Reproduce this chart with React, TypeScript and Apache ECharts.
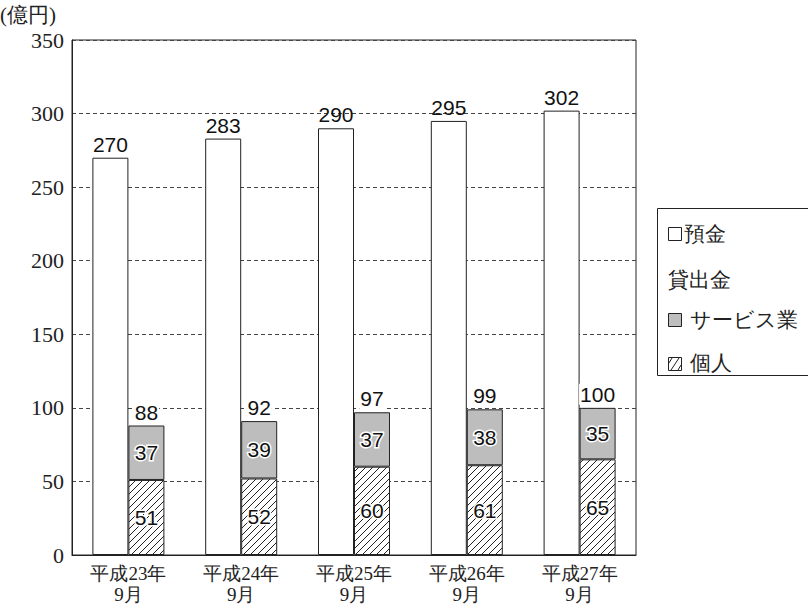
import React, { useEffect, useRef } from "react";
import * as echarts from "echarts";

const categories = ["平成23年\n9月", "平成24年\n9月", "平成25年\n9月", "平成26年\n9月", "平成27年\n9月"];
const deposits = [270, 283, 290, 295, 302];
const individual = [51, 52, 60, 61, 65];
const service = [37, 39, 37, 38, 35];
const loanTotals = [88, 92, 97, 99, 100];
const yTicks = { min: 0, max: 350, interval: 50 };

const SERIF = "Liberation Serif";
const SANS = "Liberation Sans";

function makeHatch(): HTMLCanvasElement {
  const c = document.createElement("canvas");
  const s = 7;
  c.width = s;
  c.height = s;
  const ctx = c.getContext("2d")!;
  ctx.fillStyle = "#fff";
  ctx.fillRect(0, 0, s, s);
  ctx.strokeStyle = "#222";
  ctx.lineWidth = 1;
  ctx.beginPath();
  ctx.moveTo(0, s);
  ctx.lineTo(s, 0);
  ctx.moveTo(-1, 1);
  ctx.lineTo(1, -1);
  ctx.moveTo(s - 1, s + 1);
  ctx.lineTo(s + 1, s - 1);
  ctx.stroke();
  return c;
}

export default function App() {
  const ref = useRef<HTMLDivElement>(null);
  useEffect(() => {
    document.body.style.margin = "0";
    const chart = echarts.init(ref.current!, null, { renderer: "svg" });
    const numLabel = {
      show: true,
      fontFamily: SANS,
      fontSize: 21,
      color: "#111",
    };
    const lx = 668;
    const legendText = (text: string, x: number, y: number) => ({
      type: "text",
      x,
      y,
      style: { text, fontFamily: SERIF, fontSize: 21, fill: "#222", verticalAlign: "middle" },
    });
    chart.setOption({
      animation: false,
      backgroundColor: "#fff",
      grid: { left: 72, top: 40, width: 564, height: 515, show: true, borderColor: "#222", borderWidth: 1, backgroundColor: "transparent" },
      xAxis: {
        type: "category",
        data: categories,
        axisLine: { lineStyle: { color: "#222", width: 1 } },
        axisTick: { show: false },
        axisLabel: { fontFamily: SERIF, fontSize: 19, color: "#222", lineHeight: 21, margin: 8 },
      },
      yAxis: {
        type: "value",
        min: yTicks.min,
        max: yTicks.max,
        interval: yTicks.interval,
        axisLine: { show: true, lineStyle: { color: "#222" } },
        axisTick: { show: false },
        axisLabel: { fontFamily: SERIF, fontSize: 22, color: "#222", margin: 8 },
        splitLine: { show: true, lineStyle: { type: [4, 3], color: "#444", width: 1 } },
      },
      series: [
        {
          name: "預金",
          type: "bar",
          data: deposits,
          barWidth: 36,
          barGap: "0%",
          itemStyle: { color: "#fff", borderColor: "#222", borderWidth: 1 },
          label: { ...numLabel, position: "top", distance: 3 },
          z: 3,
        },
        {
          name: "個人",
          type: "bar",
          stack: "loan",
          data: individual,
          barWidth: 36,
          itemStyle: {
            color: { image: makeHatch(), repeat: "repeat" },
            borderColor: "#222",
            borderWidth: 1,
          },
          label: { ...numLabel, position: "inside", textBorderColor: "#fff", textBorderWidth: 3 },
          z: 3,
        },
        {
          name: "サービス業",
          type: "bar",
          stack: "loan",
          data: service,
          barWidth: 36,
          itemStyle: { color: "#bdbdbd", borderColor: "#222", borderWidth: 1 },
          label: { ...numLabel, position: "inside", textBorderColor: "#fff", textBorderWidth: 3 },
          z: 3,
        },
        {
          name: "合計",
          type: "bar",
          stack: "loan",
          data: loanTotals.map(() => 0),
          barWidth: 36,
          itemStyle: { color: "transparent", borderWidth: 0 },
          label: {
            ...numLabel,
            position: "top",
            distance: 3,
            backgroundColor: "#fff",
            padding: [0, 1],
            formatter: (p: any) => String(loanTotals[p.dataIndex]),
          },
          z: 4,
        },
      ],
      graphic: [
        { type: "text", x: 0, y: 15, style: { text: "(億円)", fontFamily: SERIF, fontSize: 21, fill: "#222", verticalAlign: "middle" } },
        { type: "rect", shape: { x: 657.5, y: 208.5, width: 160, height: 167 }, style: { fill: "#fff", stroke: "#222", lineWidth: 1 } },
        { type: "rect", shape: { x: lx + 0.5, y: 227.5, width: 13, height: 13 }, style: { fill: "#fff", stroke: "#222", lineWidth: 1 } },
        legendText("預金", lx + 16, 234),
        legendText("貸出金", lx, 280),
        { type: "rect", shape: { x: lx + 0.5, y: 313.5, width: 13, height: 13 }, style: { fill: "#bdbdbd", stroke: "#222", lineWidth: 1 } },
        legendText("サービス業", lx + 22, 320),
        { type: "rect", shape: { x: lx + 0.5, y: 357.5, width: 13, height: 13 }, style: { fill: "#fff", stroke: "#222", lineWidth: 1 } },
        { type: "line", shape: { x1: lx + 3, y1: 370, x2: lx + 11, y2: 358 }, style: { stroke: "#222", lineWidth: 1 } },
        { type: "line", shape: { x1: lx + 1, y1: 363, x2: lx + 4, y2: 358 }, style: { stroke: "#222", lineWidth: 1 } },
        { type: "line", shape: { x1: lx + 10, y1: 370, x2: lx + 13, y2: 365 }, style: { stroke: "#222", lineWidth: 1 } },
        legendText("個人", lx + 22, 363),
      ],
    });
    return () => chart.dispose();
  }, []);
  return <div ref={ref} style={{ width: 808, height: 608 }} />;
}
